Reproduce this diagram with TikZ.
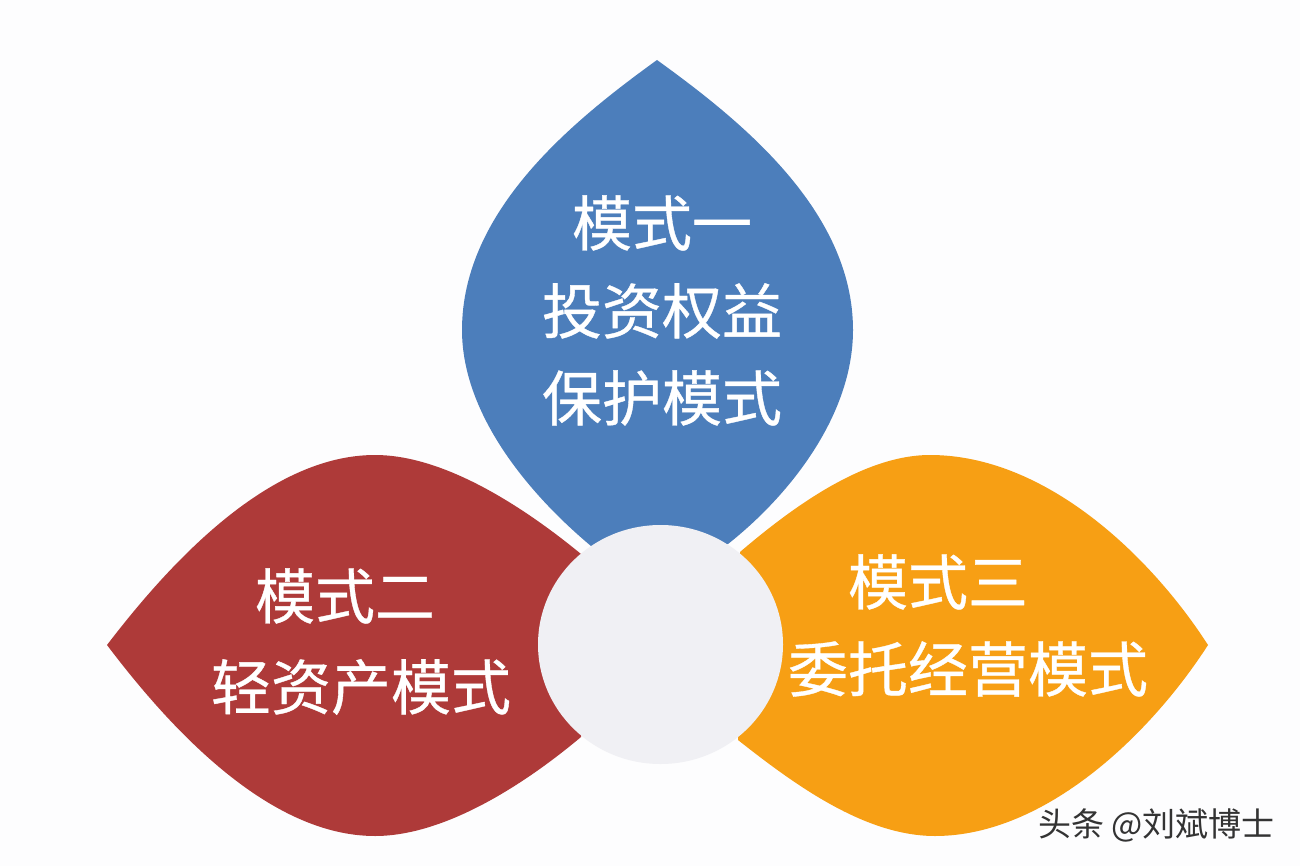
\documentclass[tikz,border=0pt]{standalone}
\usetikzlibrary{shapes.geometric}
\usepackage{fontspec}
\setmainfont{Noto Sans CJK SC}
\newfontfamily\labfont[FakeBold=0.6]{Noto Sans CJK SC}
\definecolor{bluep}{RGB}{76,126,187}
\definecolor{redp}{RGB}{174,58,57}
\definecolor{orangep}{RGB}{247,159,20}
\definecolor{hub}{RGB}{240,240,244}
\definecolor{bgc}{RGB}{253,253,254}
\tikzset{x=1pt,y=-1pt,
 lab/.style={text=white,font=\labfont\fontsize{60}{60}\selectfont,align=center,inner sep=0pt,anchor=center},
 wm/.style={text=black!80,font=\fontsize{33}{33}\selectfont,inner sep=0pt,anchor=east}}
\begin{document}
\begin{tikzpicture}
\useasboundingbox (0,0) rectangle (1300,866);
\fill[bgc] (0,0) rectangle (1300,866);
\fill[bluep] (657,60) .. controls (740,120) and (853,210) .. (853,330) .. controls (853,415) and (790,495) .. (728,544) -- (591,546) .. controls (530,495) and (462,415) .. (462,330) .. controls (462,210) and (574,120) .. (657,60) -- cycle;
\fill[redp] (107,645) .. controls (172,560) and (270,455) .. (375,455) .. controls (445,455) and (525,508) .. (581,554) -- (581,737) .. controls (525,784) and (445,836) .. (375,836) .. controls (270,836) and (172,731) .. (107,645) -- cycle;
\fill[orangep] (1208,645) .. controls (1150,555) and (1045,455) .. (930,455) .. controls (865,455) and (795,505) .. (740,552) -- (738,740) .. controls (795,785) and (865,836) .. (935,836) .. controls (1045,836) and (1150,735) .. (1208,645) -- cycle;
\node[ellipse,fill=hub,minimum width=245pt,minimum height=239pt,inner sep=0pt] (c) at (660.5,644.5) {};
\node[lab] (a1) at (662,223) {模式一};
\node[lab] (a2) at (662,311) {投资权益};
\node[lab] (a3) at (662,398) {保护模式};
\node[lab] (b1) at (345,596) {模式二};
\node[lab] (b2) at (361,687) {轻资产模式};
\node[lab] (d1) at (938,582) {模式三};
\node[lab] (d2) at (968,669) {委托经营模式};
\node[wm] (w) at (1275,825) {头条 @刘斌博士};
\end{tikzpicture}
\end{document}
